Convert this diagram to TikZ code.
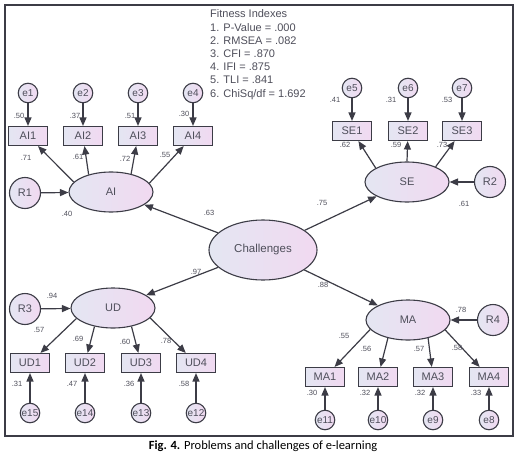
\documentclass[tikz,border=0pt]{standalone}
\usepackage{fontspec}
\setmainfont{Liberation Sans}
\newfontfamily\capfont{Carlito}
\usetikzlibrary{shapes.geometric,arrows.meta}

\definecolor{linegray}{HTML}{3C3C46}
\definecolor{txtgray}{HTML}{4E4E5A}
\definecolor{shadeL}{HTML}{E4E6F2}
\definecolor{shadeR}{HTML}{F1D9F1}

\tikzset{
  shp/.style={draw=linegray, line width=1.1pt, left color=shadeL, right color=shadeR,
    text=txtgray, inner sep=0pt},
  errc/.style={shp, circle, minimum size=19.5pt, font=\fontsize{10}{11}\selectfont},
  resc/.style={shp, circle, minimum size=31pt, font=\fontsize{11}{12}\selectfont},
  obs/.style={shp, rectangle, minimum width=39pt, minimum height=19pt,
    font=\fontsize{11}{12}\selectfont},
  lat/.style={shp, ellipse, minimum width=84pt, minimum height=40pt,
    font=\fontsize{11}{12}\selectfont},
  arr/.style={draw=linegray, line width=1.2pt, -{Triangle[length=8.5pt,width=7pt]}},
  num/.style={text=txtgray, inner sep=0pt, font=\fontsize{7.5}{8}\selectfont},
  fit/.style={text=txtgray, inner sep=0pt, anchor=base west, font=\fontsize{11}{13}\selectfont}
}

\begin{document}
\begin{tikzpicture}[x=1pt,y=-1pt]
    \useasboundingbox (0,0) rectangle (526,457);
    % Frame
    \draw[linegray, line width=1.2pt] (5,5) rectangle (513,436);

    % Fitness indexes
    \foreach \t [count=\i] in {Fitness Indexes, 1. P-Value = .000, 2. RMSEA = .082,
        3. CFI = .870, 4. IFI = .875, 5. TLI = .841, 6. ChiSq/df = 1.692}
      \node[fit] (fit\i) at (210,{18+13.2*(\i-1)}) {\t};

    % Latent variables
    \node[lat, minimum width=108pt, minimum height=60pt,
          font=\fontsize{11.5}{13}\selectfont] (Ch) at (263,250) {Challenges};
    \node[lat] (AI) at (111,192) {AI};
    \node[lat] (SE) at (407,182) {SE};
    \node[lat] (UD) at (113,308) {UD};
    \node[lat] (MA) at (408,320) {MA};

    % Residuals
    \node[resc] (R1) at (25,193) {R1};
    \node[resc] (R2) at (490,182) {R2};
    \node[resc] (R3) at (25,309) {R3};
    \node[resc] (R4) at (493,320) {R4};

    % AI items
    \foreach \x/\a [count=\i] in {28/165,83/142,138/42,193/13} {
      \node[obs] (AI\i) at (\x,136) {AI\i};
      \node[errc] (e\i) at (\x,93) {e\i};
      \draw[arr] (e\i) -- (AI\i);
      \draw[arr] (AI.\a) -- (AI\i);
    }
    % SE items
    \foreach \x/\i/\j/\a in {352/1/5/156,408/2/6/90,462/3/7/28} {
      \node[obs] (SE\i) at (\x,131) {SE\i};
      \node[errc] (e\j) at (\x,88) {e\j};
      \draw[arr] (e\j) -- (SE\i);
      \draw[arr] (SE.\a) -- (SE\i);
    }
    % UD items
    \foreach \x/\i/\j/\a in {30/1/15/196,85/2/14/225,141/3/13/315,196/4/12/345} {
      \node[obs] (UD\i) at (\x,363) {UD\i};
      \node[errc] (e\j) at (\x,413) {e\j};
      \draw[arr] (e\j) -- (UD\i);
      \draw[arr] (UD.\a) -- (UD\i);
    }
    % MA items
    \foreach \x/\i/\j/\a in {325/1/11/194,378/2/10/222,433/3/9/318,489/4/8/345} {
      \node[obs] (MA\i) at (\x,377) {MA\i};
      \node[errc] (e\j) at (\x,420) {e\j};
      \draw[arr] (e\j) -- (MA\i);
      \draw[arr] (MA.\a) -- (MA\i);
    }

    % Structural paths
    \draw[arr] (R1) -- (AI);
    \draw[arr] (R2) -- (SE);
    \draw[arr] (R3) -- (UD);
    \draw[arr] (R4) -- (MA);
    \foreach \f in {AI,SE,UD,MA}
      \draw[arr] (Ch) -- (\f);

    % Estimates
    \foreach \t/\x/\y [count=\i] in {.50/19/116, .37/75/116, .51/130/116, .30/184/114,
        .71/26/158, .61/78/157, .72/125/159, .55/165/155, .40/67/214, .63/209/213,
        .41/335/100, .31/391/100, .53/447/100, .62/345/145, .59/396/145, .73/442/145,
        .75/322/203, .61/464/204, .97/196/272, .94/52/296,
        .57/39/330, .69/78/339, .60/125/342, .78/166/341,
        .31/17/384, .47/72/384, .36/129/384, .58/184/384,
        .88/323/285, .78/461/310, .55/344/336, .56/366/349, .57/419/349, .58/457/348,
        .30/312/393, .32/365/393, .32/420/393, .33/476/393}
      \node[num] (est\i) at (\x,\y) {\t};

    % Caption
    \node[font=\capfont\fontsize{12.5}{14}\selectfont, inner sep=0pt] (cap) at (263,446)
      {\textbf{Fig. 4.} Problems and challenges of e-learning};
\end{tikzpicture}
\end{document}
